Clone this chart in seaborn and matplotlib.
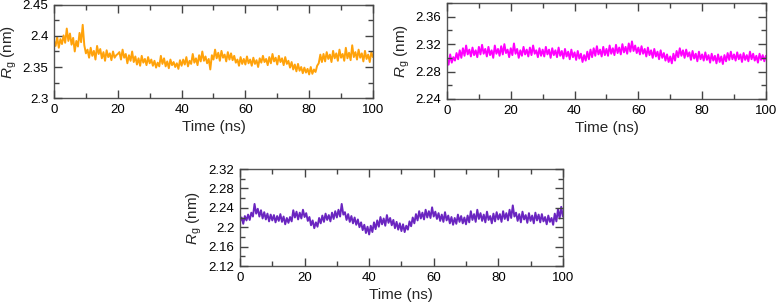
import numpy as np
import pandas as pd
import matplotlib
matplotlib.use("Agg")
import matplotlib.pyplot as plt
import seaborn as sns
from matplotlib.ticker import MultipleLocator, FuncFormatter

# Rg traces, one value every 0.5 ns (0-100 ns)
rg_orange = [
    2.392, 2.384, 2.398, 2.381, 2.395, 2.387, 2.401, 2.389, 2.412, 2.392, 2.404, 2.386, 2.397, 2.375, 2.392, 2.383, 2.405, 2.390, 2.418, 2.385, 2.372,
    2.378, 2.365, 2.381, 2.368, 2.376, 2.362, 2.384, 2.371, 2.379, 2.364, 2.374, 2.360, 2.377, 2.366, 2.372, 2.361, 2.375, 2.365, 2.369, 2.371,
    2.374, 2.362, 2.378, 2.365, 2.371, 2.356, 2.369, 2.360, 2.375, 2.358, 2.367, 2.354, 2.364, 2.352, 2.368, 2.357, 2.363, 2.353, 2.366, 2.356,
    2.362, 2.352, 2.360, 2.349, 2.357, 2.351, 2.368, 2.355, 2.364, 2.351, 2.359, 2.348, 2.362, 2.353, 2.358, 2.350, 2.356, 2.347, 2.361, 2.352,
    2.362, 2.354, 2.366, 2.351, 2.360, 2.355, 2.371, 2.357, 2.364, 2.353, 2.369, 2.359, 2.375, 2.360, 2.367, 2.356, 2.363, 2.346, 2.369, 2.362,
    2.378, 2.364, 2.373, 2.360, 2.376, 2.365, 2.370, 2.359, 2.374, 2.362, 2.372, 2.361, 2.368, 2.357, 2.362, 2.352, 2.366, 2.355, 2.363, 2.354,
    2.367, 2.356, 2.362, 2.352, 2.365, 2.355, 2.361, 2.350, 2.364, 2.357, 2.368, 2.358, 2.363, 2.353, 2.366, 2.356, 2.371, 2.359, 2.365, 2.354,
    2.368, 2.358, 2.364, 2.353, 2.366, 2.355, 2.360, 2.349, 2.358, 2.346, 2.354, 2.343, 2.355, 2.344, 2.350, 2.340, 2.349, 2.341, 2.347, 2.338,
    2.350, 2.339, 2.346, 2.342, 2.352, 2.356, 2.370, 2.358, 2.371, 2.359, 2.374, 2.363, 2.370, 2.358, 2.376, 2.364, 2.372, 2.360, 2.378, 2.365,
    2.371, 2.360, 2.381, 2.364, 2.373, 2.361, 2.385, 2.366, 2.374, 2.362, 2.378, 2.365, 2.372, 2.359, 2.376, 2.363, 2.370, 2.358, 2.374, 2.366,
]

rg_magenta = [
    2.298, 2.290, 2.305, 2.293, 2.301, 2.296, 2.307, 2.298, 2.311, 2.300, 2.314, 2.303, 2.318, 2.305, 2.312, 2.302, 2.315, 2.304, 2.311, 2.301, 2.316,
    2.305, 2.319, 2.306, 2.313, 2.302, 2.316, 2.304, 2.311, 2.300, 2.318, 2.306, 2.313, 2.303, 2.317, 2.305, 2.320, 2.307, 2.312, 2.301, 2.314,
    2.304, 2.321, 2.306, 2.313, 2.300, 2.311, 2.303, 2.316, 2.305, 2.312, 2.302, 2.315, 2.304, 2.318, 2.306, 2.311, 2.301, 2.314, 2.303, 2.312,
    2.302, 2.316, 2.305, 2.312, 2.300, 2.314, 2.304, 2.311, 2.301, 2.315, 2.303, 2.310, 2.299, 2.313, 2.302, 2.309, 2.298, 2.312, 2.301, 2.308,
    2.297, 2.310, 2.299, 2.306, 2.294, 2.304, 2.296, 2.309, 2.298, 2.312, 2.301, 2.314, 2.303, 2.317, 2.305, 2.312, 2.302, 2.316, 2.304, 2.313,
    2.303, 2.318, 2.306, 2.314, 2.304, 2.319, 2.307, 2.315, 2.305, 2.320, 2.308, 2.316, 2.306, 2.321, 2.309, 2.324, 2.310, 2.318, 2.307, 2.315,
    2.305, 2.317, 2.306, 2.313, 2.302, 2.315, 2.304, 2.311, 2.300, 2.313, 2.302, 2.309, 2.298, 2.311, 2.300, 2.307, 2.296, 2.305, 2.294, 2.302,
    2.292, 2.306, 2.296, 2.310, 2.301, 2.314, 2.303, 2.311, 2.300, 2.312, 2.302, 2.308, 2.297, 2.310, 2.299, 2.306, 2.295, 2.309, 2.298, 2.305,
    2.296, 2.308, 2.297, 2.304, 2.293, 2.306, 2.296, 2.303, 2.292, 2.305, 2.294, 2.302, 2.291, 2.304, 2.295, 2.307, 2.297, 2.309, 2.298, 2.305,
    2.296, 2.308, 2.298, 2.305, 2.294, 2.307, 2.297, 2.304, 2.295, 2.309, 2.298, 2.306, 2.296, 2.303, 2.293, 2.306, 2.297, 2.304, 2.295, 2.303,
]

rg_purple = [
    2.212, 2.220, 2.207, 2.223, 2.214, 2.226, 2.215, 2.230, 2.222, 2.248, 2.228, 2.238, 2.222, 2.235, 2.218, 2.231, 2.216, 2.228, 2.212, 2.226, 2.214,
    2.225, 2.210, 2.223, 2.213, 2.227, 2.211, 2.222, 2.206, 2.219, 2.209, 2.221, 2.212, 2.235, 2.220, 2.232, 2.216, 2.230, 2.218, 2.236, 2.221,
    2.229, 2.213, 2.221, 2.204, 2.214, 2.198, 2.210, 2.201, 2.219, 2.208, 2.224, 2.211, 2.228, 2.215, 2.225, 2.212, 2.230, 2.217, 2.233, 2.220,
    2.236, 2.222, 2.248, 2.226, 2.231, 2.215, 2.227, 2.211, 2.223, 2.208, 2.220, 2.205, 2.216, 2.200, 2.210, 2.194, 2.205, 2.188, 2.201, 2.185,
    2.203, 2.190, 2.210, 2.196, 2.214, 2.201, 2.221, 2.206, 2.218, 2.203, 2.225, 2.209, 2.219, 2.204, 2.215, 2.198, 2.211, 2.195, 2.208, 2.192,
    2.206, 2.190, 2.203, 2.195, 2.212, 2.202, 2.220, 2.208, 2.227, 2.214, 2.233, 2.218, 2.230, 2.216, 2.236, 2.220, 2.233, 2.219, 2.241, 2.222,
    2.232, 2.217, 2.229, 2.213, 2.226, 2.211, 2.231, 2.214, 2.224, 2.208, 2.221, 2.205, 2.219, 2.207, 2.226, 2.211, 2.223, 2.208, 2.220, 2.206,
    2.224, 2.210, 2.233, 2.215, 2.227, 2.211, 2.236, 2.217, 2.229, 2.213, 2.226, 2.210, 2.232, 2.215, 2.223, 2.208, 2.228, 2.212, 2.231, 2.216,
    2.227, 2.211, 2.233, 2.217, 2.229, 2.214, 2.236, 2.219, 2.245, 2.222, 2.230, 2.213, 2.227, 2.210, 2.232, 2.216, 2.225, 2.209, 2.229, 2.213,
    2.224, 2.208, 2.230, 2.214, 2.226, 2.210, 2.227, 2.212, 2.221, 2.206, 2.224, 2.211, 2.219, 2.205, 2.228, 2.212, 2.237, 2.218, 2.242, 2.222,
]

sns.set_style("ticks")
plt.rcParams['font.family'] = ['Liberation Sans', 'DejaVu Sans']
plt.rcParams['mathtext.fontset'] = 'custom'
plt.rcParams['mathtext.rm'] = 'Liberation Sans'
plt.rcParams['mathtext.it'] = 'Liberation Sans:italic'
plt.rcParams['axes.axisbelow'] = False

fig = plt.figure(figsize=(7.76, 3.06), dpi=100)

# panel rectangles in figure fractions
panels = [
    (rg_orange, '#ffa20a', [0.0696, 0.6797, 0.411, 0.304], (2.3, 2.45), 0.05, 0.025),
    (rg_magenta, '#ff00ff', [0.576, 0.6765, 0.411, 0.3137], (2.24, 2.38), 0.04, 0.02),
    (rg_purple, '#6a25c0', [0.3093, 0.1307, 0.416, 0.317], (2.12, 2.32), 0.04, 0.02),
]

for rg, color, rect, ylim, major, minor in panels:
    ax = fig.add_axes(rect)
    df = pd.DataFrame({'time': np.linspace(0, 100, len(rg)), 'rg': rg})
    sns.lineplot(data=df, x='time', y='rg', ax=ax, color=color, linewidth=1.4)
    ax.set_xlim(0, 100)
    ax.set_ylim(*ylim)
    ax.xaxis.set_major_locator(MultipleLocator(20))
    ax.xaxis.set_minor_locator(MultipleLocator(10))
    ax.yaxis.set_major_locator(MultipleLocator(major))
    ax.yaxis.set_minor_locator(MultipleLocator(minor))
    ax.yaxis.set_major_formatter(FuncFormatter(lambda v, p: f'{v:.3f}'.rstrip('0').rstrip('.')))
    ax.tick_params(which='major', direction='in', top=True, right=True, bottom=True, left=True,
                   color='#444444', length=6, width=1.0, labelsize=9.5, labelcolor='black', pad=4)
    ax.tick_params(which='minor', direction='in', top=True, right=True, bottom=True, left=True,
                   color='#444444', length=3.5, width=1.0)
    for s in ax.spines.values():
        s.set_color('#555555')
        s.set_linewidth(1.0)
    ax.set_xlabel('Time (ns)', fontsize=11, labelpad=3)
    ax.set_ylabel(r'$R_\mathrm{g}$ (nm)', fontsize=11, labelpad=3)

fig.savefig('out.png', dpi=100)
